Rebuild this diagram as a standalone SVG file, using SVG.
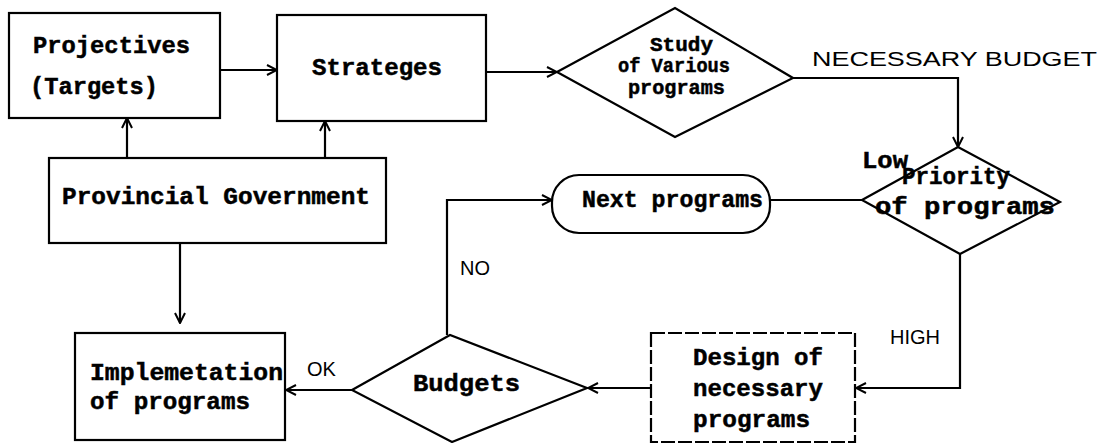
<svg xmlns="http://www.w3.org/2000/svg" width="1114" height="443" viewBox="0 0 1114 443">
<defs>
<marker id="arr" viewBox="0 0 12 12" refX="11" refY="6" markerWidth="12" markerHeight="12" markerUnits="userSpaceOnUse" orient="auto">
<path d="M1,1 L11,6 L1,11" fill="none" stroke="#000" stroke-width="2"/>
</marker>
<style>
.box{fill:#fff;stroke:#000;stroke-width:2.2}
.dash{stroke-dasharray:14 3}
.t{font-family:"Liberation Mono",monospace;font-weight:bold;font-size:24px;fill:#000;stroke:#000;stroke-width:0.5}
.ts{font-family:"Liberation Mono",monospace;font-weight:bold;font-size:21px;fill:#000;stroke:#000;stroke-width:0.5}
.lb{font-family:"Liberation Sans",Arial,sans-serif;font-size:20px;fill:#000}
.ln{fill:none;stroke:#000;stroke-width:2.2}
</style>
</defs>
<rect width="1114" height="443" fill="#fff"/>
<g id="connectors">
<line class="ln" x1="220" y1="70" x2="277" y2="70" marker-end="url(#arr)"/>
<line class="ln" x1="486" y1="72" x2="557" y2="72" marker-end="url(#arr)"/>
<polyline class="ln" points="793,78 958,78 958,147" marker-end="url(#arr)"/>
<line class="ln" x1="127" y1="158" x2="127" y2="118" marker-end="url(#arr)"/>
<line class="ln" x1="325" y1="158" x2="325" y2="121" marker-end="url(#arr)"/>
<line class="ln" x1="180" y1="243" x2="180" y2="323" marker-end="url(#arr)"/>
<line class="ln" x1="862" y1="200" x2="770" y2="200"/>
<polyline class="ln" points="447,335 447,200 552,200" marker-end="url(#arr)"/>
<polyline class="ln" points="960,254 960,388 856,388" marker-end="url(#arr)"/>
<line class="ln" x1="651" y1="388" x2="588" y2="388" marker-end="url(#arr)"/>
<line class="ln" x1="352" y1="390" x2="286" y2="390" marker-end="url(#arr)"/>
<text class="lb" x="812" y="66" textLength="285" lengthAdjust="spacingAndGlyphs">NECESSARY BUDGET</text>
<text class="t" x="862" y="168" textLength="46" lengthAdjust="spacingAndGlyphs">Low</text>
<text class="lb" x="460" y="275">NO</text>
<text class="lb" x="307" y="376">OK</text>
<text class="lb" x="890" y="344">HIGH</text>
</g>
<g id="projectives">
<rect class="box" x="9" y="13" width="211" height="105"/>
<text class="t" x="33" y="53" textLength="157" lengthAdjust="spacingAndGlyphs">Projectives</text>
<text class="t" x="30" y="94" textLength="128" lengthAdjust="spacingAndGlyphs">(Targets)</text>
</g>
<g id="strateges">
<rect class="box" x="277" y="15" width="209" height="106"/>
<text class="t" x="312" y="75" textLength="130" lengthAdjust="spacingAndGlyphs">Strateges</text>
</g>
<g id="study">
<polygon class="box" points="557,72 675,8 793,78 675,137"/>
<text class="ts" x="650" y="51" textLength="63" lengthAdjust="spacingAndGlyphs">Study</text>
<text class="ts" x="618" y="72" textLength="112" lengthAdjust="spacingAndGlyphs">of Various</text>
<text class="ts" x="628" y="94" textLength="97" lengthAdjust="spacingAndGlyphs">programs</text>
</g>
<g id="provincial">
<rect class="box" x="49" y="158" width="337" height="85"/>
<text class="t" x="62" y="204" textLength="308" lengthAdjust="spacingAndGlyphs">Provincial Government</text>
</g>
<g id="next">
<rect class="box" x="552" y="175" width="218" height="58" rx="27" ry="27"/>
<text class="t" x="582" y="207" textLength="181" lengthAdjust="spacingAndGlyphs">Next programs</text>
</g>
<g id="priority">
<polygon class="box" points="862,200 958,147 1060,202 960,254"/>
<text class="t" x="902" y="184" textLength="108" lengthAdjust="spacingAndGlyphs">Priority</text>
<text class="t" x="875" y="214" textLength="180" lengthAdjust="spacingAndGlyphs">of programs</text>
</g>
<g id="implementation">
<rect class="box" x="75" y="333" width="210" height="107"/>
<text class="t" x="90" y="380" textLength="193" lengthAdjust="spacingAndGlyphs">Implemetation</text>
<text class="t" x="90" y="409" textLength="160" lengthAdjust="spacingAndGlyphs">of programs</text>
</g>
<g id="budgets">
<polygon class="box" points="352,390 450,335 587,388 452,442"/>
<text class="t" x="413" y="391" textLength="107" lengthAdjust="spacingAndGlyphs">Budgets</text>
</g>
<g id="design">
<rect class="box dash" x="651" y="333" width="204" height="109"/>
<text class="t" x="693" y="365" textLength="130" lengthAdjust="spacingAndGlyphs">Design of</text>
<text class="t" x="693" y="396" textLength="130" lengthAdjust="spacingAndGlyphs">necessary</text>
<text class="t" x="693" y="427" textLength="117" lengthAdjust="spacingAndGlyphs">programs</text>
</g>
</svg>
